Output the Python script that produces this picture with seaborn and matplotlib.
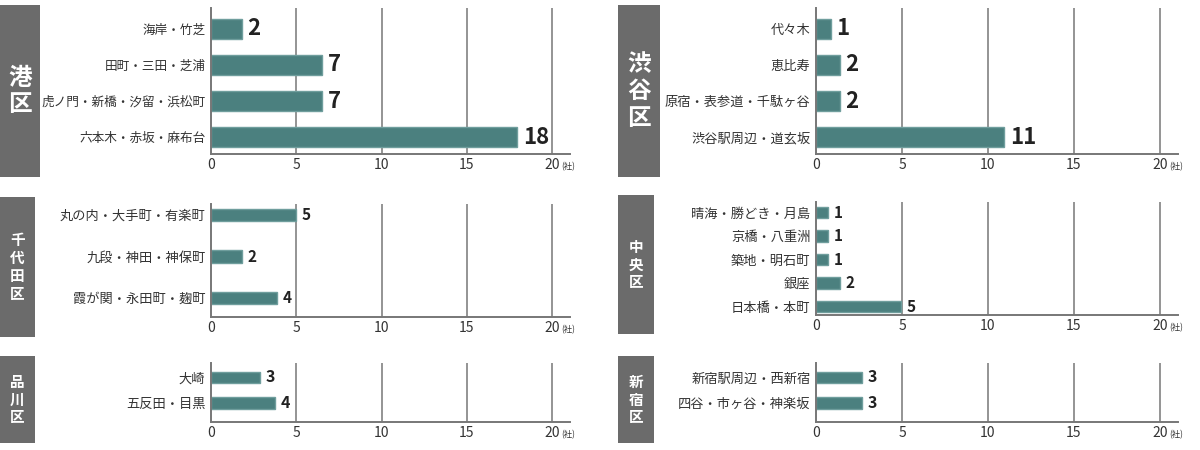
import matplotlib
matplotlib.use("Agg")
import matplotlib.pyplot as plt
import seaborn as sns

# ---- data ----
minato_areas = ["海岸・竹芝", "田町・三田・芝浦", "虎ノ門・新橋・汐留・浜松町", "六本木・赤坂・麻布台"]
minato_counts = [2, 7, 7, 18]
minato_bars = [1.8, 6.5, 6.5, 17.95]

chiyoda_areas = ["丸の内・大手町・有楽町", "九段・神田・神保町", "霞が関・永田町・麹町"]
chiyoda_counts = [5, 2, 4]
chiyoda_bars = [5.0, 1.8, 3.85]

shinagawa_areas = ["大崎", "五反田・目黒"]
shinagawa_counts = [3, 4]
shinagawa_bars = [2.87, 3.77]

shibuya_areas = ["代々木", "恵比寿", "原宿・表参道・千駄ヶ谷", "渋谷駅周辺・道玄坂"]
shibuya_counts = [1, 2, 2, 11]
shibuya_bars = [0.87, 1.39, 1.39, 10.95]

chuo_areas = ["晴海・勝どき・月島", "京橋・八重洲", "築地・明石町", "銀座", "日本橋・本町"]
chuo_counts = [1, 1, 1, 2, 5]
chuo_bars = [0.72, 0.72, 0.72, 1.39, 4.95]

shinjuku_areas = ["新宿駅周辺・西新宿", "四谷・市ヶ谷・神楽坂"]
shinjuku_counts = [3, 3]
shinjuku_bars = [2.67, 2.67]

x_ticks = [0, 5, 10, 15, 20]
unit_label = "(社)"

BAR_COLOR = "#4b807f"
BAR_EDGE = "#6f9e9d"
BOX_COLOR = "#6b6b6b"
LINE_COLOR = "#777777"
TEXT_COLOR = "#333333"

sns.set_style("white")
plt.rcParams["font.family"] = ["Noto Sans CJK JP", "DejaVu Sans"]

W, H = 1200, 450
fig = plt.figure(figsize=(12, 4.5), dpi=100)


def rect(x0, y0, x1, y1):
    """pixel box (top-left origin) -> figure fraction rect"""
    return [x0 / W, 1 - y1 / H, (x1 - x0) / W, (y1 - y0) / H]


def ward_box(name, box, fontsize):
    bx = fig.add_axes(rect(*box))
    bx.set_facecolor(BOX_COLOR)
    bx.set_xticks([])
    bx.set_yticks([])
    for s in bx.spines.values():
        s.set_visible(False)
    bx.text(0.5, 0.5, "\n".join(name), ha="center", va="center",
            color="white", fontsize=fontsize, fontweight="bold",
            linespacing=1.15, transform=bx.transAxes)


def panel(areas, bars, counts, ax_box, ylim, width, label_fs, value_fs):
    ax = fig.add_axes(rect(*ax_box))
    sns.barplot(x=bars, y=areas, orient="h", color=BAR_COLOR, width=width,
                edgecolor=BAR_EDGE, linewidth=1, saturation=1, ax=ax)
    ax.set_xlim(0, 21.05)
    ax.set_ylim(*ylim)
    ax.set_xticks(x_ticks)
    ax.set_xticklabels([str(t) for t in x_ticks], fontsize=10, color=TEXT_COLOR)
    ax.tick_params(axis="both", length=0)
    ax.tick_params(axis="x", pad=3)
    ax.tick_params(axis="y", pad=4)
    for lbl in ax.get_yticklabels():
        lbl.set_fontsize(label_fs)
        lbl.set_color(TEXT_COLOR)
    ax.set_xlabel("")
    ax.set_ylabel("")
    ax.grid(False)
    for t in x_ticks[1:]:
        ax.axvline(t, color=LINE_COLOR, lw=1.1, zorder=0)
    for side in ["top", "right"]:
        ax.spines[side].set_visible(False)
    for side in ["left", "bottom"]:
        ax.spines[side].set_color(LINE_COLOR)
        ax.spines[side].set_linewidth(1.4)
    ax.bar_label(ax.containers[0], labels=[str(c) for c in counts],
                 padding=4, fontsize=value_fs, fontweight="bold", color="#222222")
    ax.annotate(unit_label, xy=(20, 0), xycoords=ax.get_xaxis_transform(),
                xytext=(6.5, -9), textcoords="offset points",
                ha="left", va="center", fontsize=6, color=TEXT_COLOR)
    return ax


# left column
ward_box("港区", (0, 5, 40, 177), 17)
panel(minato_areas, minato_bars, minato_counts, (211, 8, 570, 154),
      (3.47, -0.58), 0.55, 9.1, 16)

ward_box("千代田区", (0, 197, 35, 337), 10.5)
panel(chiyoda_areas, chiyoda_bars, chiyoda_counts, (211, 204, 570, 317),
      (2.46, -0.27), 0.3, 9.5, 11)

ward_box("品川区", (0, 356, 35, 443), 10.5)
panel(shinagawa_areas, shinagawa_bars, shinagawa_counts, (211, 363, 570, 422),
      (1.75, -0.57), 0.47, 9.5, 11.5)

# right column
ward_box("渋谷区", (618, 5, 660, 177), 17)
panel(shibuya_areas, shibuya_bars, shibuya_counts, (816, 8, 1178, 154),
      (3.47, -0.58), 0.55, 9.5, 16)

ward_box("中央区", (618, 195, 654, 334), 10.5)
panel(chuo_areas, chuo_bars, chuo_counts, (816, 202, 1178, 315),
      (4.36, -0.45), 0.5, 9.5, 11)

ward_box("新宿区", (618, 356, 654, 443), 10.5)
panel(shinjuku_areas, shinjuku_bars, shinjuku_counts, (816, 363, 1178, 422),
      (1.75, -0.57), 0.47, 9.5, 11.5)

fig.savefig("out.png", dpi=100)
